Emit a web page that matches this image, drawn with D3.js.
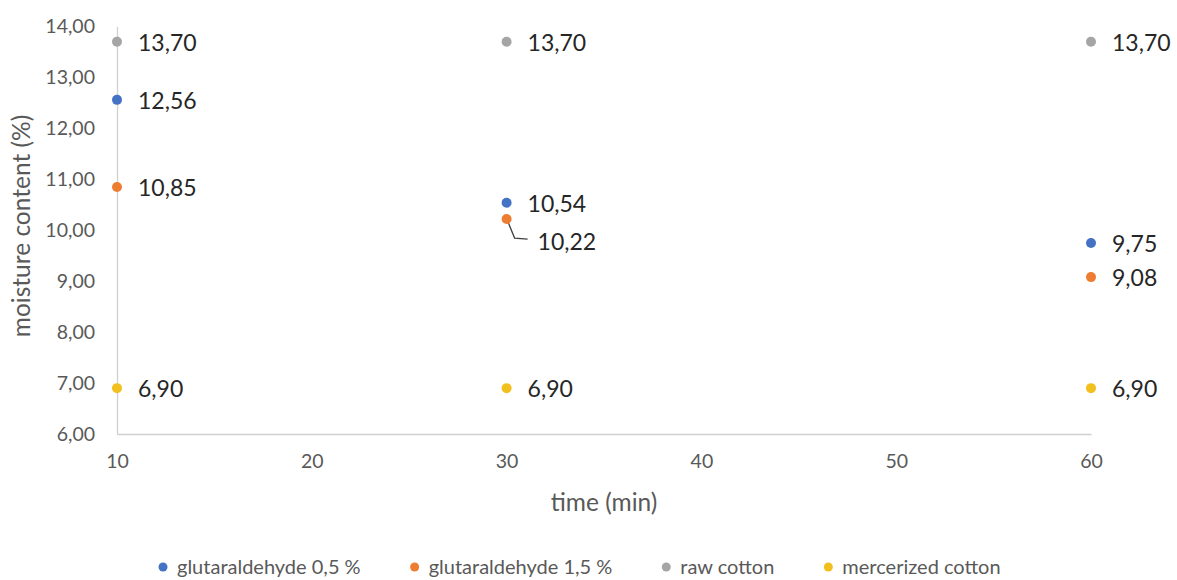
<!DOCTYPE html>
<html><head><meta charset="utf-8">
<script src="https://cdn.jsdelivr.net/npm/d3@7"></script>
<style>body{margin:0;background:#fff;}svg{display:block;font-family:Lato,"Open Sans",sans-serif;}</style>
</head><body><svg id="c" width="1177" height="580"></svg>
<script>
const times = [10, 30, 60];
const seriesNames = ["glutaraldehyde 0,5 %", "glutaraldehyde 1,5 %", "raw cotton", "mercerized cotton"];
const gluta05 = [12.56, 10.54, 9.75];
const gluta15 = [10.85, 10.22, 9.08];
const rawCotton = [13.70, 13.70, 13.70];
const mercerized = [6.90, 6.90, 6.90];
const colors = ["#4472c4", "#ed7d31", "#a5a5a5", "#f2c01e"];
const xTicks = [10, 20, 30, 40, 50, 60];
const yTicks = [6, 7, 8, 9, 10, 11, 12, 13, 14];

const seriesValues = [gluta05, gluta15, rawCotton, mercerized];
const svg = d3.select("#c");
const x = d3.scaleLinear().domain([10, 60]).range([117, 1091]);
const y = d3.scaleLinear().domain([6, 14]).range([434, 26.5]);
const fmt = v => d3.format(".2f")(v).replace(".", ",");

// axes
const xa = svg.append("g").attr("transform", `translate(0,${y(6)})`)
  .call(d3.axisBottom(x).tickValues(xTicks).tickSize(0).tickPadding(20).tickFormat(d => d));
const ya = svg.append("g").attr("transform", `translate(${x(10)},0)`)
  .call(d3.axisLeft(y).tickValues(yTicks).tickSize(0).tickPadding(22).tickFormat(fmt));
[xa, ya].forEach(a => {
  a.select(".domain").attr("stroke", "#d0d0d0").attr("stroke-width", 1.3);
  a.selectAll("text").attr("fill", "#595959").attr("font-size", 19.5).attr("font-family", "Lato, sans-serif");
});

// axis titles
svg.append("text").attr("x", (x(10) + x(60)) / 2).attr("y", 502).attr("dy", "0.35em").attr("text-anchor", "middle")
  .attr("fill", "#595959").attr("font-size", 24.5).text("time (min)");
svg.append("text").attr("transform", `translate(21,226) rotate(-90)`).attr("dy", "0.35em").attr("text-anchor", "middle")
  .attr("fill", "#595959").attr("font-size", 24.5).text("moisture content (%)");

// leader line for 10,22
svg.append("path")
  .attr("d", d3.line()([[x(30) + 1, y(10.22) + 2], [x(30) + 8, y(10.22) + 19], [x(30) + 21, y(10.22) + 20]]))
  .attr("fill", "none").attr("stroke", "#404040").attr("stroke-width", 1.3);

// points + labels
seriesValues.forEach((vals, si) => {
  const g = svg.append("g");
  g.selectAll("circle").data(vals).join("circle")
    .attr("cx", (d, i) => x(times[i])).attr("cy", d => y(d)).attr("r", 5).attr("fill", colors[si]);
  g.selectAll("text").data(vals).join("text")
    .attr("x", (d, i) => x(times[i]) + ((si === 1 && i === 1) ? 31 : 21))
    .attr("y", (d, i) => y(d) + ((si === 1 && i === 1) ? 23 : 1))
    .attr("dy", "0.35em").attr("font-size", 23).attr("fill", "#262626")
    .text(d => fmt(d));
});

// legend
const lg = svg.append("g");
let lx = 163;
seriesNames.forEach((n, i) => {
  lg.append("circle").attr("cx", lx).attr("cy", 567).attr("r", 4.5).attr("fill", colors[i]);
  const t = lg.append("text").attr("x", lx + 14).attr("y", 567).attr("dy", "0.35em")
    .attr("font-size", 20).attr("fill", "#595959").text(n);
  lx += 14 + t.node().getComputedTextLength() + 54;
});
</script></body></html>
